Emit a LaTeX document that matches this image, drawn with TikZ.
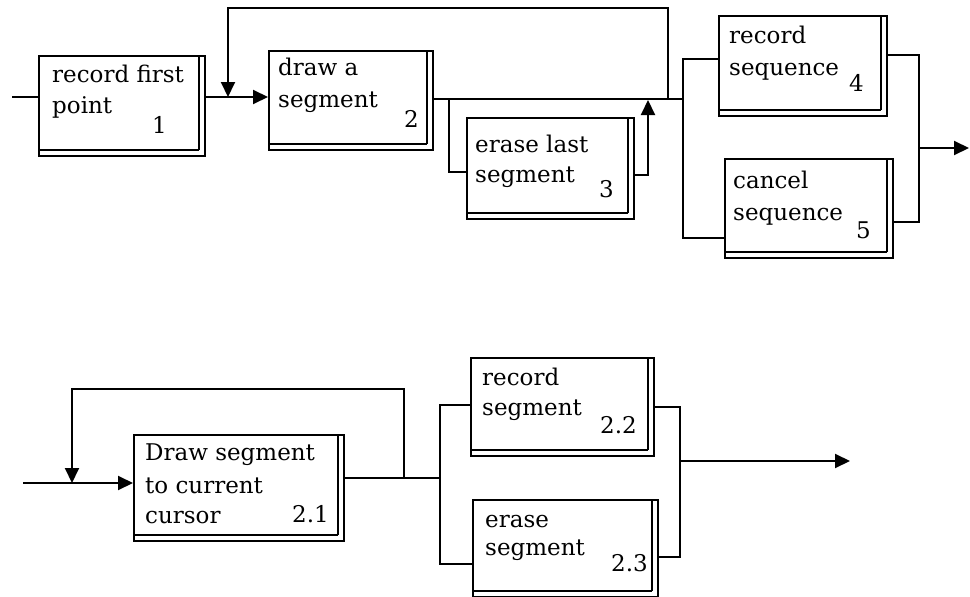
\documentclass[tikz,border=0pt]{standalone}
\usepackage{fontspec}
\setmainfont{DejaVu Serif}
\usetikzlibrary{arrows.meta}

\tikzset{
  procbox/.style={draw, line width=2pt, rectangle, inner sep=0pt, anchor=north west},
  edge rule/.style={line width=1.1pt},
  base rule/.style={line width=2pt},
  boxtext/.style={anchor=base west, inner sep=0pt, font=\fontsize{23}{28}\selectfont},
  boxnum/.style={anchor=base east, inner sep=0pt, font=\fontsize{23}{28}\selectfont},
  wire/.style={line width=2pt},
  flow/.style={wire, -{Triangle[length=15pt,width=14pt]}},
}

% process box: name, left, top, width, height (top/left corner in picture units)
\newcommand\procbox[5]{%
  \node[procbox, minimum width=#4pt, minimum height=#5pt] (#1) at (#2,#3) {};
  \draw[edge rule] ([shift={(-7,1)}]#1.north east) -- ([shift={(-7,-7)}]#1.south east);
  \draw[base rule] ([shift={(-7,-7)}]#1.south east) -- ([shift={(0,-7)}]#1.south west);
}

\begin{document}
\begin{tikzpicture}[x=1pt, y=-1pt]
\useasboundingbox (0,0) rectangle (970,597);

% ---------- top sequence ----------
\procbox{b1}{38}{55}{166}{100}
\procbox{b2}{268}{50}{164}{99}
\procbox{b3}{466}{117}{167}{101}
\procbox{b4}{718}{15}{168}{100}
\procbox{b5}{724}{158}{168}{99}

\node[boxtext] (b1a) at (52,82)  {record first};
\node[boxtext] (b1b) at (52,113) {point};
\node[boxnum]  (b1n) at (167,133) {1};

\node[boxtext] (b2a) at (278,75)  {draw a};
\node[boxtext] (b2b) at (278,107) {segment};
\node[boxnum]  (b2n) at (419,127) {2};

\node[boxtext] (b3a) at (475,152) {erase last};
\node[boxtext] (b3b) at (475,182) {segment};
\node[boxnum]  (b3n) at (614,197) {3};

\node[boxtext] (b4a) at (729,43) {record};
\node[boxtext] (b4b) at (729,75) {sequence};
\node[boxnum]  (b4n) at (864,91) {4};

\node[boxtext] (b5a) at (733,188) {cancel};
\node[boxtext] (b5b) at (733,220) {sequence};
\node[boxnum]  (b5n) at (871,238) {5};

\coordinate (in1)    at (12,97);
\coordinate (fbjoin) at (228,97);
\coordinate (fbtop)  at (228,8);
\coordinate (fbsrc)  at (668,99);
\coordinate (j1)     at (683,99);
\coordinate (s3)     at (449,99);
\coordinate (b3in)   at (449,172);
\coordinate (b3out)  at (648,175);
\coordinate (up3)    at (648,100);
\coordinate (j1top)  at (683,59);
\coordinate (j1bot)  at (683,238);
\coordinate (k1top)  at (919,55);
\coordinate (k1bot)  at (919,222);
\coordinate (k1)     at (919,148);
\coordinate (out1)   at (969,148);

\draw[wire] (in1) -- (in1 -| b1.west);
\draw[flow] (b1.east |- in1) -- (in1 -| b2.west);
\draw[flow] (fbsrc) |- (fbtop) -- (fbjoin);
\draw[wire] (b2.east |- j1) -- (j1);
\draw[wire] (s3) -- (b3in) -- (b3in -| b3.west);
\draw[flow] (b3out -| b3.east) -- (b3out) -- (up3);
\draw[wire] (j1top -| b4.west) -- (j1top) -- (j1bot) -- (j1bot -| b5.west);
\draw[wire] (k1top -| b4.east) -- (k1top) -- (k1bot) -- (k1bot -| b5.east);
\draw[flow] (k1) -- (out1);

% ---------- refinement of box 2 ----------
\procbox{c1}{133}{434}{210}{106}
\procbox{c2}{470}{357}{183}{98}
\procbox{c3}{472}{499}{185}{97}

\node[boxtext] (c1a) at (145,460) {Draw segment};
\node[boxtext] (c1b) at (145,493) {to current};
\node[boxtext] (c1c) at (145,523) {cursor};
\node[boxnum]  (c1n) at (329,522) {2.1};

\node[boxtext] (c2a) at (482,385) {record};
\node[boxtext] (c2b) at (482,415) {segment};
\node[boxnum]  (c2n) at (637,433) {2.2};

\node[boxtext] (c3a) at (485,527) {erase};
\node[boxtext] (c3b) at (485,555) {segment};
\node[boxnum]  (c3n) at (648,571) {2.3};

\coordinate (in2)     at (23,483);
\coordinate (fb2join) at (72,483);
\coordinate (fb2top)  at (72,389);
\coordinate (fb2src)  at (404,478);
\coordinate (j2)      at (440,478);
\coordinate (j2top)   at (440,405);
\coordinate (j2bot)   at (440,564);
\coordinate (k2top)   at (680,407);
\coordinate (k2bot)   at (680,557);
\coordinate (k2)      at (680,461);
\coordinate (out2)    at (850,461);

\draw[flow] (in2) -- (in2 -| c1.west);
\draw[flow] (fb2src) |- (fb2top) -- (fb2join);
\draw[wire] (j2 -| c1.east) -- (j2);
\draw[wire] (j2top -| c2.west) -- (j2top) -- (j2bot) -- (j2bot -| c3.west);
\draw[wire] (k2top -| c2.east) -- (k2top) -- (k2bot) -- (k2bot -| c3.east);
\draw[flow] (k2) -- (out2);
\end{tikzpicture}
\end{document}
